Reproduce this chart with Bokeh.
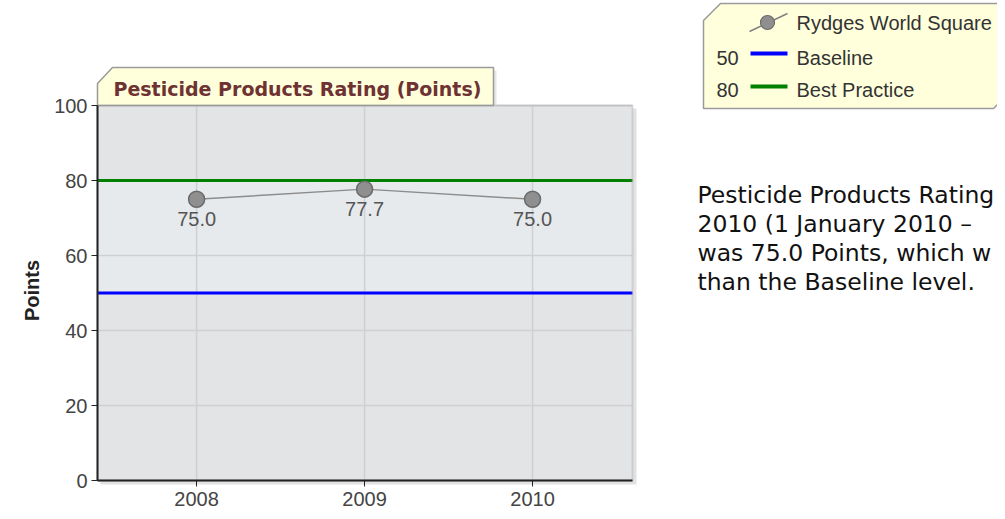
import math
from bokeh.plotting import figure
from bokeh.models import (Range1d, BoxAnnotation, LabelSet, ColumnDataSource, FixedTicker)
from bokeh.core.properties import value
from bokeh.embed import file_html
from bokeh.resources import INLINE

# ---------------- data ----------------
years = [2008, 2009, 2010]
ratings = [75.0, 77.7, 75.0]
rating_labels = ["75.0", "77.7", "75.0"]
baseline = 50
best_practice = 80
y_ticks = [0, 20, 40, 60, 80, 100]
series_name = "Rydges World Square"
baseline_name = "Baseline"
best_name = "Best Practice"
chart_title = "Pesticide Products Rating (Points)"
y_title = "Points"
# the descriptive paragraph, as far as it is visible in the window
paragraph = [
    "Pesticide Products Rating",
    "2010 (1 January 2010 \u2013",
    "was 75.0 Points, which w",
    "than the Baseline level.",
]

# ---------------- plot window ----------------
W, H = 997, 511
PLOT_L, PLOT_R, PLOT_T, PLOT_B = 97, 632, 105, 480  # plot area in canvas px
X_START, X_END = 2007.41, 2010.595                   # x window of the plot area
Y_MIN, Y_MAX = 0, 100
PX_PER_X = (PLOT_R - PLOT_L) / (X_END - X_START)
PX_PER_Y = (PLOT_B - PLOT_T) / (Y_MAX - Y_MIN)


def X(px):  # canvas px -> data x (for decorations around the plot area)
    return X_START + (px - PLOT_L) / PX_PER_X


def Y(py):  # canvas px -> data y
    return Y_MIN + (PLOT_B - py) / PX_PER_Y


p = figure(width=W, height=H, output_backend="svg", toolbar_location=None,
           x_range=Range1d(X(0), X(W)), y_range=Range1d(Y(H), Y(0)),
           min_border_left=0, min_border_right=0, min_border_top=0,
           min_border_bottom=0)
p.background_fill_color = "white"
p.border_fill_color = "white"
p.outline_line_color = None
p.xgrid.visible = False
p.ygrid.visible = False

# soft shadow of the plot area
p.add_layout(BoxAnnotation(left=X(PLOT_L + 3), right=X(PLOT_R + 4), bottom=Y(PLOT_B + 4),
                           top=Y(PLOT_T + 3), fill_color="#e2e2e2", fill_alpha=1,
                           line_alpha=0, level="image"))
# plot area background and band between baseline and best practice
p.add_layout(BoxAnnotation(left=X_START, right=X_END, bottom=Y_MIN, top=Y_MAX,
                           fill_color="#e3e4e6", fill_alpha=1, line_alpha=0, level="image"))
p.add_layout(BoxAnnotation(left=X_START, right=X_END, bottom=baseline, top=best_practice,
                           fill_color="#e7eaed", fill_alpha=1, line_alpha=0, level="image"))

# grid lines (limited to the plot area)
p.segment(x0=years, x1=years, y0=[Y_MIN] * len(years), y1=[Y_MAX] * len(years),
          line_color="#cfd0d3", line_width=1.5)
p.segment(x0=[X_START] * len(y_ticks), x1=[X_END] * len(y_ticks), y0=y_ticks, y1=y_ticks,
          line_color="#cfd0d3", line_width=1.5)

# plot area border (top/right grey)
p.add_layout(BoxAnnotation(left=X_START, right=X_END, bottom=Y_MIN, top=Y_MAX,
                           fill_alpha=0, line_color="#9a9a9a", line_width=2, level="glyph"))

# axes, drawn at the edges of the plot area
p.xaxis.fixed_location = Y_MIN
p.yaxis.fixed_location = X_START
p.xaxis.ticker = FixedTicker(ticks=years)
p.yaxis.ticker = FixedTicker(ticks=y_ticks)
p.xaxis.bounds = (X_START, X_END)
p.yaxis.bounds = (Y_MIN, Y_MAX)
for ax in (p.xaxis[0], p.yaxis[0]):
    ax.axis_line_color = "#222222"
    ax.axis_line_width = 2
    ax.major_tick_line_color = "#222222"
    ax.major_tick_in = 0
    ax.major_tick_out = 6
    ax.minor_tick_line_color = None
    ax.major_label_text_font = "Liberation Sans"
    ax.major_label_text_font_size = "20px"
    ax.major_label_text_color = "#444444"
p.yaxis.major_label_standoff = 4
p.xaxis.major_label_standoff = 5

# y axis title
p.text(x=[X(31)], y=[Y(290)], text=[y_title], angle=math.pi / 2,
       text_font=value("Liberation Sans"), text_font_style="bold",
       text_font_size="20px", text_color="#222222",
       text_align="center", text_baseline="middle")

# reference lines
p.segment(x0=[X_START], x1=[X_END], y0=[baseline], y1=[baseline],
          line_color="#0000ff", line_width=3)
p.segment(x0=[X_START], x1=[X_END], y0=[best_practice], y1=[best_practice],
          line_color="#008000", line_width=3)

# series
src = ColumnDataSource(dict(x=years, y=ratings, label=rating_labels))
p.line("x", "y", source=src, line_color="#8c8c8c", line_width=1.5)
p.scatter("x", "y", source=src, size=16, fill_color="#8f8f8f", line_color="#6a6a6a",
          line_width=1.5)
p.add_layout(LabelSet(x="x", y="y", text="label", source=src, y_offset=-13,
                      text_align="center", text_baseline="top",
                      text_font=value("Liberation Sans"), text_font_size="20px",
                      text_color="#555555"))

# ---------------- title tab ----------------
p.patch([X(v) for v in (100, 100, 115, 496, 496)], [Y(v) for v in (105, 86, 70, 70, 105)],
        fill_color="#e6e6e6", line_alpha=0)
p.patch([X(v) for v in (97, 97, 112, 493, 493)], [Y(v) for v in (105, 83, 67, 67, 105)],
        fill_color="#ffffdc", line_color="#9a9a9a", line_width=1.5)
p.text(x=[X(113)], y=[Y(88)], text=[chart_title], text_font=value("DejaVu Sans"),
       text_font_style="bold", text_font_size="19px", text_color="#6e3232",
       text_baseline="middle", text_align="left")

# ---------------- legend ----------------
p.patch([X(v) for v in (703, 720, 1015, 1015, 1008, 993, 703)],
        [Y(v) for v in (20, 3, 3, 93, 93, 108, 108)],
        fill_color="#ffffdc", line_color="#9a9a9a", line_width=1.5)
legend_text = dict(text_font=value("Liberation Sans"), text_font_size="20px",
                   text_color="#333333", text_baseline="middle", text_align="left")
# series entry
p.line([X(749), X(787)], [Y(31), Y(13)], line_color="#808080", line_width=1.5)
p.scatter([X(767)], [Y(22)], size=14, fill_color="#8f8f8f", line_color="#6a6a6a",
          line_width=1.2)
p.text(x=[X(796)], y=[Y(22)], text=[series_name], **legend_text)
# reference line entries
for val, name, col, ty, ly in [(baseline, baseline_name, "#0000ff", 57, 53),
                               (best_practice, best_name, "#008000", 89, 86)]:
    p.text(x=[X(716)], y=[Y(ty)], text=[str(val)], **legend_text)
    p.line([X(750), X(787)], [Y(ly), Y(ly)], line_color=col, line_width=4)
    p.text(x=[X(796)], y=[Y(ty)], text=[name], **legend_text)

# ---------------- descriptive paragraph ----------------
p.text(x=[X(697)] * len(paragraph), y=[Y(194 + 29 * i) for i in range(len(paragraph))],
       text=paragraph, text_font=value("DejaVu Sans"), text_font_size="23.5px",
       text_color="#111111", text_baseline="alphabetic", text_align="left")

open("out.html", "w").write(file_html(p, INLINE))
